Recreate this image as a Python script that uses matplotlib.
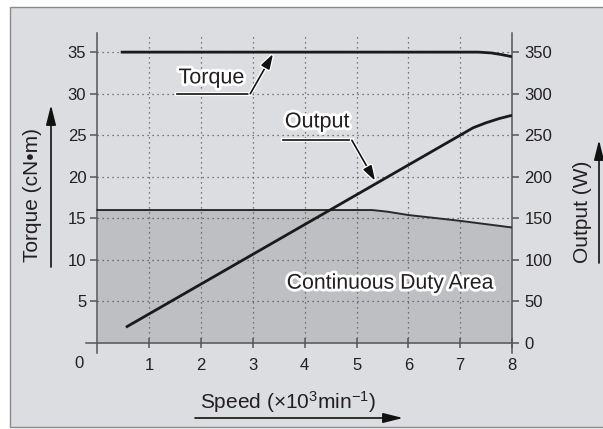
import matplotlib
matplotlib.use('Agg')
import matplotlib.pyplot as plt
import matplotlib.patheffects as pe
from matplotlib.patches import Rectangle

plt.rcParams['font.family'] = ['Liberation Sans', 'DejaVu Sans']
plt.rcParams['mathtext.fontset'] = 'custom'
plt.rcParams['mathtext.rm'] = 'Liberation Sans'
plt.rcParams['mathtext.it'] = 'Liberation Sans:italic'

# curves (speed in 10^3 min^-1)
torque_speed = [0.45, 7.35, 7.6, 7.8, 8.0]
torque_val = [35.0, 35.0, 34.9, 34.7, 34.45]

output_speed = [0.55, 7.0, 7.25, 7.5, 7.75, 8.0]
output_val = [19, 250, 259, 265, 270, 274]

duty_speed = [0, 5.3, 5.6, 6.0, 7.0, 8.0]
duty_val = [16.0, 16.0, 15.8, 15.4, 14.7, 13.9]

speed_ticks = [1, 2, 3, 4, 5, 6, 7, 8]
torque_ticks = [5, 10, 15, 20, 25, 30, 35]
output_ticks = [0, 50, 100, 150, 200, 250, 300, 350]

TXT = '#231f20'
BG = '#dcdde0'
FILL = '#bebfc2'
halo = [pe.withStroke(linewidth=4, foreground='white')]

fig = plt.figure(figsize=(6.03, 4.29), dpi=100, facecolor='white')
fig.patches.append(Rectangle((9.5 / 603, 2.5 / 429), 1.0, 420 / 429,
                             transform=fig.transFigure, facecolor=BG,
                             edgecolor='#8a8a8a', lw=1.0, zorder=-10))

ax = fig.add_axes([86 / 603, 76 / 429, 426 / 603, 320 / 429])
ax.set_zorder(2)
ax.set_facecolor('none')
ax.set_xlim(-0.22, 8)
ax.set_ylim(-1.2, 37.3)

ax.spines['top'].set_visible(False)
ax.spines['left'].set_position(('data', 0))
ax.spines['bottom'].set_position(('data', 0))
for s in ['left', 'bottom', 'right']:
    ax.spines[s].set_color('#555555')
    ax.spines[s].set_linewidth(1.1)

# continuous duty area
ax.fill_between(duty_speed, 0, duty_val, color=FILL, lw=0, zorder=1)
ax.plot(duty_speed, duty_val, color='#2a2a2a', lw=1.4, zorder=3)

# dotted grid
ax.hlines(torque_ticks, 0, 8, colors='#555555', linestyles=(0, (1, 3)),
          lw=0.9, zorder=2)
ax.vlines(speed_ticks[:-1], 0, 37.3, colors='#555555', linestyles=(0, (1, 3)),
          lw=0.9, zorder=2)

ax.plot(torque_speed, torque_val, color='#1a1a1a', lw=2.0, zorder=3,
        solid_capstyle='butt')
ax.plot(output_speed, [v / 10 for v in output_val], color='#1a1a1a', lw=2.0,
        zorder=3, solid_capstyle='butt')

ax.set_xticks(speed_ticks)
ax.set_xticklabels([str(t) for t in speed_ticks])
ax.set_yticks(torque_ticks)
ax.set_yticklabels([str(t) for t in torque_ticks])
ax.tick_params(axis='x', direction='inout', length=7, width=1.1, color='#555555',
               labelsize=12, labelcolor=TXT, pad=7)
ax.tick_params(axis='y', direction='out', length=5, width=1.1, color='#555555',
               labelsize=12, labelcolor=TXT, pad=3, right=False)
ax.text(-0.36, -2.5, '0', fontsize=12, color=TXT, ha='center', va='center')

ax2 = ax.twinx()
ax2.set_zorder(3)
ax2.set_ylim(-12, 373)
for s in ax2.spines.values():
    s.set_visible(False)
ax2.set_yticks(output_ticks)
ax2.set_yticklabels([str(t) for t in output_ticks])
ax2.tick_params(axis='y', direction='out', length=5, width=1.1, color='#555555',
                labelsize=12, labelcolor=TXT, pad=4)

# curve labels with leaders
arrow_kw = dict(arrowstyle='-|>,head_length=0.9,head_width=0.28', color='#111111',
                lw=1.2, mutation_scale=10, shrinkA=0, shrinkB=0)
lead_halo = [pe.withStroke(linewidth=3, foreground='white')]

ax.text(2.2, 31.9, 'Torque', fontsize=15.5, color=TXT, ha='center', va='center',
        path_effects=halo, zorder=5)
ax.plot([1.54, 2.95], [30, 30], color='#111111', lw=1.2, zorder=5,
        path_effects=lead_halo)
a = ax.annotate('', xy=(3.39, 34.8), xytext=(2.95, 30), arrowprops=arrow_kw,
                zorder=5)
a.arrow_patch.set_path_effects(lead_halo)

ax.text(4.24, 26.6, 'Output', fontsize=15.5, color=TXT, ha='center', va='center',
        path_effects=halo, zorder=5)
ax.plot([3.58, 4.91], [24.4, 24.4], color='#111111', lw=1.2, zorder=5,
        path_effects=lead_halo)
a = ax.annotate('', xy=(5.36, 19.5), xytext=(4.91, 24.4), arrowprops=arrow_kw,
                zorder=5)
a.arrow_patch.set_path_effects(lead_halo)

ax.text(5.65, 7.2, 'Continuous Duty Area', fontsize=15.3, color=TXT, ha='center',
        va='center', path_effects=halo, zorder=5)

# axis titles with arrows
fig.text(33 / 603, 1 - 195 / 429, 'Torque (cN•m)', rotation=90, fontsize=15,
         color=TXT, ha='center', va='center')
fig.text(582 / 603, 1 - 212 / 429, 'Output (W)', rotation=90, fontsize=15,
         color=TXT, ha='center', va='center')
fig.text(288 / 603, 1 - 402 / 429, 'Speed (\u00d710$^\\mathregular{3}$min$^\\mathregular{-1}$)',
         fontsize=15, color=TXT, ha='center', va='center')

ax_arrow = dict(arrowstyle='-|>,head_length=1.2,head_width=0.3', color='#111111',
                lw=1.2, mutation_scale=10, shrinkA=0, shrinkB=0)
fig_ann = [((51, 162), (51, 324)), ((599, 166), (599, 289)), ((195, 11), (403, 11))]
for start, end in fig_ann:
    ax.annotate('', xy=end, xytext=start, xycoords='figure pixels',
                textcoords='figure pixels', arrowprops=ax_arrow,
                annotation_clip=False)

fig.savefig('out.png', dpi=100, facecolor=fig.get_facecolor())
